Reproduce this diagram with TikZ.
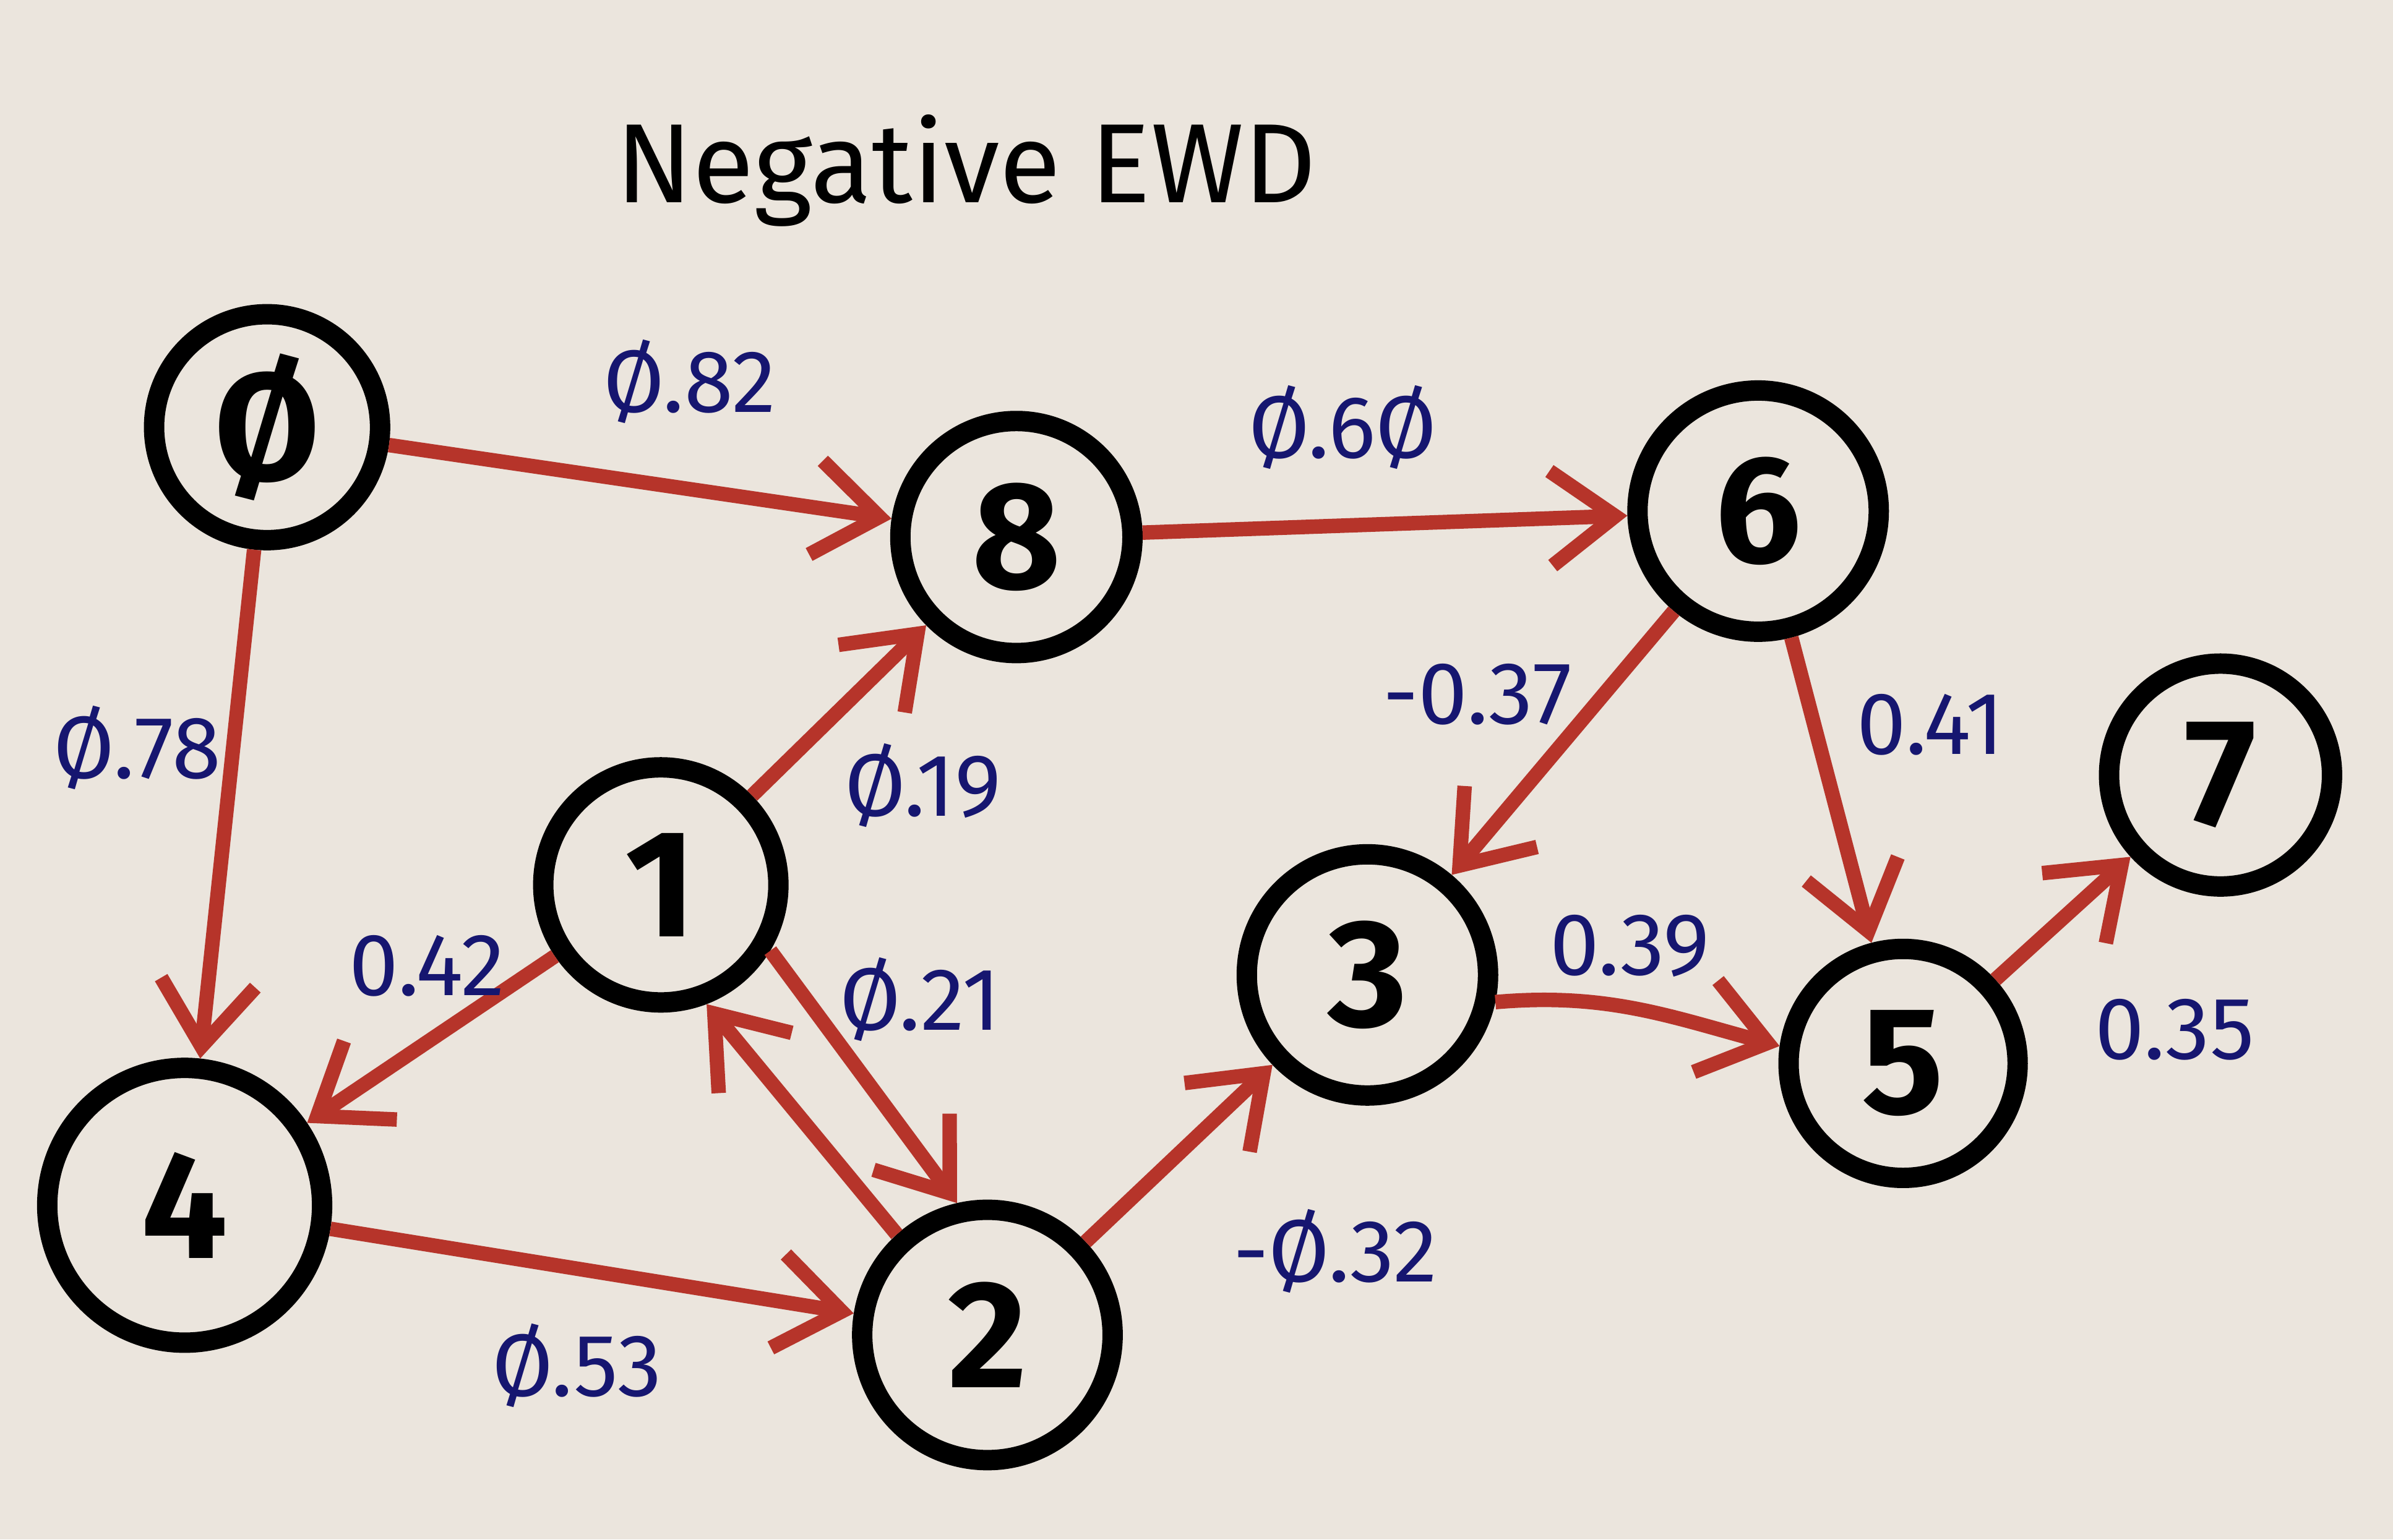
\documentclass[tikz,border=0pt]{standalone}
\usepackage{fontspec}
\setmainfont{Fira Sans}
\usetikzlibrary{arrows.meta}
\definecolor{paper}{RGB}{235,229,221}
\definecolor{redink}{RGB}{182,52,42}
\definecolor{navyink}{RGB}{22,22,112}
\tikzset{
  vert/.style={circle, draw=black, line width=3.8pt, fill=paper, inner sep=0pt,
    font=\fontsize{28.5}{30}\selectfont\bfseries},
  edge/.style={draw=redink, line width=2.7pt,
    -{Straight Barb[length=0.42cm, width=0.62cm, line width=2.7pt]}},
  wlabel/.style={text=navyink, font=\fontsize{16.5}{18}\selectfont},
  titletext/.style={text=black, font=\fontsize{21}{24}\selectfont}
}
\begin{document}
\begin{tikzpicture}[x=0.01cm, y=-0.01cm]
\fill[paper] (0,0) rectangle (1568,1009);
\useasboundingbox (0,0) rectangle (1568,1009);

\node[titletext] (title) at (633,112) {Negative EWD};

\node[vert, minimum size=1.48cm] (n0) at (175,280) {Ø};
\node[vert, minimum size=1.52cm] (n8) at (666,352) {8};
\node[vert, minimum size=1.58cm] (n6) at (1152,335) {6};
\node[vert, minimum size=1.46cm] (n7) at (1455,508) {7};
\node[vert, minimum size=1.54cm] (n1) at (433,580) {1};
\node[vert, minimum size=1.58cm] (n3) at (896,639) {3};
\node[vert, minimum size=1.50cm] (n5) at (1247,697) {5};
\node[vert, minimum size=1.80cm] (n4) at (121,790) {4};
\node[vert, minimum size=1.64cm] (n2) at (647,875) {2};

\draw[edge] (n0) -- (n8);
\draw[edge] (n0) -- (n4);
\draw[edge] (n8) -- (n6);
\draw[edge] (n1) -- (n8);
\draw[edge] (n1) -- (n4);
\draw[edge] (n4) -- (n2);
\draw[edge] (n1.-31) -- (n2.103);
\draw[edge] (n2.132) -- (n1.-69);
\draw[edge] (n2) -- (n3);
\draw[edge] (n6) -- (n3);
\draw[edge] (n6) -- (n5);
\draw[edge] (n3.-12) to[out=5, in=165] (n5.172);
\draw[edge] (n5) -- (n7);

\node[wlabel] (w08) at (452,250) {Ø.82};
\node[wlabel] (w86) at (880,280) {Ø.6Ø};
\node[wlabel] (w04) at (90,490) {Ø.78};
\node[wlabel] (w18) at (605,515) {Ø.19};
\node[wlabel] (w63) at (968,455) {-0.37};
\node[wlabel] (w65) at (1265,475) {0.41};
\node[wlabel] (w14) at (280,633) {0.42};
\node[wlabel] (w12) at (603,655) {Ø.21};
\node[wlabel] (w35) at (1068,620) {0.39};
\node[wlabel] (w57) at (1425,675) {0.35};
\node[wlabel] (w23) at (875,820) {-Ø.32};
\node[wlabel] (w42) at (378,895) {Ø.53};
\end{tikzpicture}
\end{document}
